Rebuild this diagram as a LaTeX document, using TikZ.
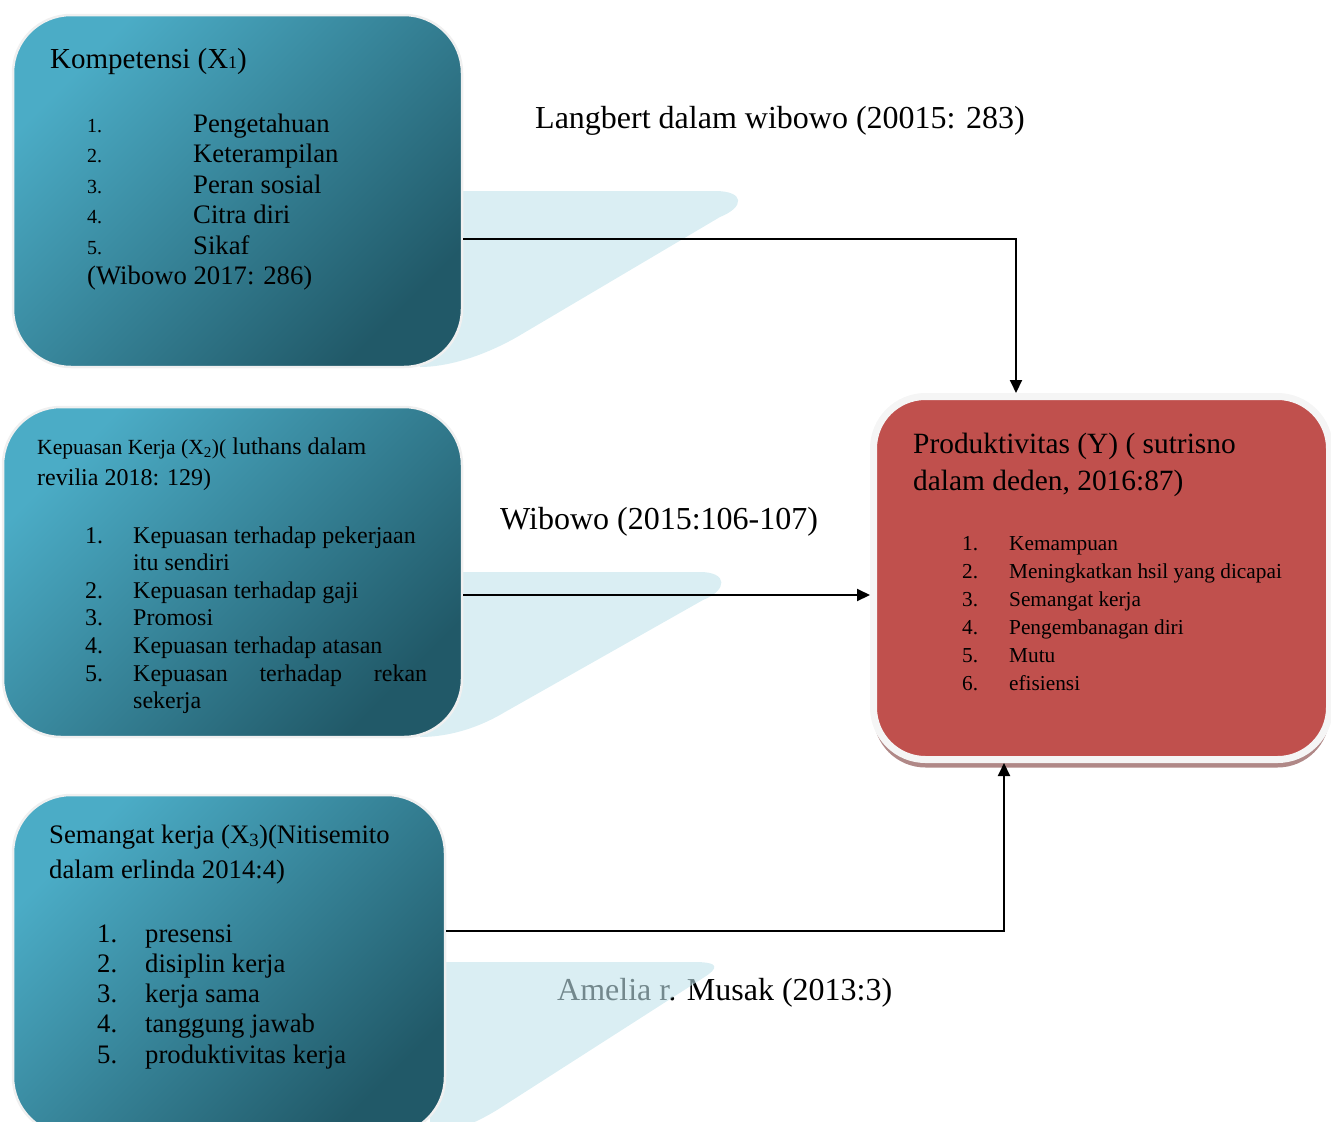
\documentclass[tikz,border=0pt]{standalone}
\usepackage{fontspec}
\setmainfont{Liberation Serif}
\usetikzlibrary{arrows.meta,shadows}
\definecolor{tosca}{RGB}{75,172,198}
\definecolor{toscatua}{RGB}{33,89,104}
\definecolor{merah}{RGB}{192,80,77}
\definecolor{birumuda}{RGB}{193,227,235}
\newcommand{\uk}[2]{\fontsize{#1}{#2}\selectfont}
\begin{document}
\begin{tikzpicture}[x=1pt,y=-1pt,
    variabel/.style={rectangle, rounded corners=58pt, inner sep=0pt,
        draw=gray!12, line width=2.5pt,
        top color=tosca, bottom color=toscatua, shading angle=45},
    hasil/.style={rectangle, rounded corners=52pt, inner sep=0pt,
        fill=merah, draw=gray!8, line width=7pt,
        drop shadow={shadow xshift=0pt, shadow yshift=-8pt,
            fill=merah!45!gray!80, opacity=1}},
    teks/.style={inner sep=0pt, anchor=base west},
    bayangan/.style={fill=birumuda, fill opacity=0.6},
    panah/.style={line width=2pt, -{Triangle[length=13pt,width=12pt]}}]
\clip (0,0) rectangle (1331,1122);

% sumber teori
\node[teks, font=\uk{32}{38}] (lbl1) at (535,128) {Langbert dalam wibowo (20015: 283)};
\node[teks, font=\uk{32}{38}] (lbl2) at (500,529) {Wibowo (2015:106-107)};
\node[teks, font=\uk{32}{38}] (lbl3) at (557,1000) {Amelia r. Musak (2013:3)};

% bayangan kotak
\fill[bayangan] (440,191) -- (715,191) .. controls (745,191) and (745,207) .. (720,217)
    -- (517,337) .. controls (480,358) and (445,367) .. (420,367) -- cycle;
\fill[bayangan] (440,572) -- (700,572) .. controls (728,572) and (728,590) .. (703,600)
    -- (505,712) .. controls (475,730) and (445,737) .. (420,737) -- cycle;
\fill[bayangan] (430,962) -- (694,962) .. controls (720,962) and (719,968) .. (703,978)
    -- (497,1110) .. controls (477,1122) and (460,1130) .. (430,1135) -- cycle;

% variabel bebas
\node[variabel, minimum width=449pt, minimum height=352pt] (x1) at (237.5,191) {};
\node[variabel, minimum width=459pt, minimum height=330pt] (x2) at (232.5,572) {};
\node[variabel, minimum width=432pt, minimum height=340pt] (x3) at (229,965) {};

% variabel terikat
\node[hasil, minimum width=456pt, minimum height=363pt] (y) at (1101.5,578) {};

\node[teks, font=\uk{29}{35}] (x1judul) at (50,68)
    {Kompetensi (X{\uk{18}{18}1})};
\node[teks, font=\uk{26.7}{30.5}] (x1isi) at (87,132) {\begin{tabular}[t]{@{}p{106pt}@{}l@{}}
    {\uk{20}{20}1.} & Pengetahuan\\
    {\uk{20}{20}2.} & Keterampilan\\
    {\uk{20}{20}3.} & Peran sosial\\
    {\uk{20}{20}4.} & Citra diri\\
    {\uk{20}{20}5.} & Sikaf\\
    \multicolumn{2}{@{}l@{}}{(Wibowo 2017: 286)}
  \end{tabular}};

\node[teks, font=\uk{24}{31}] (x2judul) at (37,454) {\begin{tabular}[t]{@{}l@{}}
    {\uk{21.6}{24}Kepuasan Kerja (X\textsubscript{2})(} luthans dalam\\
    revilia 2018: 129)
  \end{tabular}};
\node[teks, font=\uk{24}{27.6}] (x2isi) at (85,543) {\begin{tabular}[t]{@{}p{48pt}@{}l@{}}
    1. & Kepuasan terhadap pekerjaan\\
       & itu sendiri\\
    2. & Kepuasan terhadap gaji\\
    3. & Promosi\\
    4. & Kepuasan terhadap atasan\\
    5. & \makebox[294pt][s]{Kepuasan terhadap rekan}\\
       & sekerja
  \end{tabular}};

\node[teks, font=\uk{26.7}{35}] (x3judul) at (49,843) {\begin{tabular}[t]{@{}l@{}}
    Semangat kerja (X\textsubscript{3})(Nitisemito\\
    dalam erlinda 2014:4)
  \end{tabular}};
\node[teks, font=\uk{26.7}{30.3}] (x3isi) at (97,942) {\begin{tabular}[t]{@{}p{48pt}@{}l@{}}
    1. & presensi\\
    2. & disiplin kerja\\
    3. & kerja sama\\
    4. & tanggung jawab\\
    5. & produktivitas kerja
  \end{tabular}};

\node[teks, font=\uk{29.4}{37}] (yjudul) at (913,453) {\begin{tabular}[t]{@{}l@{}}
    Produktivitas (Y) ( sutrisno\\
    dalam deden, 2016:87)
  \end{tabular}};
\node[teks, font=\uk{21.3}{28}] (yisi) at (962,550) {\begin{tabular}[t]{@{}p{47pt}@{}l@{}}
    1. & Kemampuan\\
    2. & Meningkatkan hsil yang dicapai\\
    3. & Semangat kerja\\
    4. & Pengembanagan diri\\
    5. & Mutu\\
    6. & efisiensi
  \end{tabular}};

% hubungan
\coordinate (b1) at (1016,239);
\coordinate (b2) at (872,595);
\coordinate (b3) at (1004,931);
\draw[panah] (x1.east |- b1) -- (b1) -- (y.north -| b1);
\draw[panah] (x2.east |- b2) -- (y.west |- b2);
\draw[panah] (x3.east |- b3) -- (b3) -- (y.south -| b3);
\end{tikzpicture}
\end{document}
